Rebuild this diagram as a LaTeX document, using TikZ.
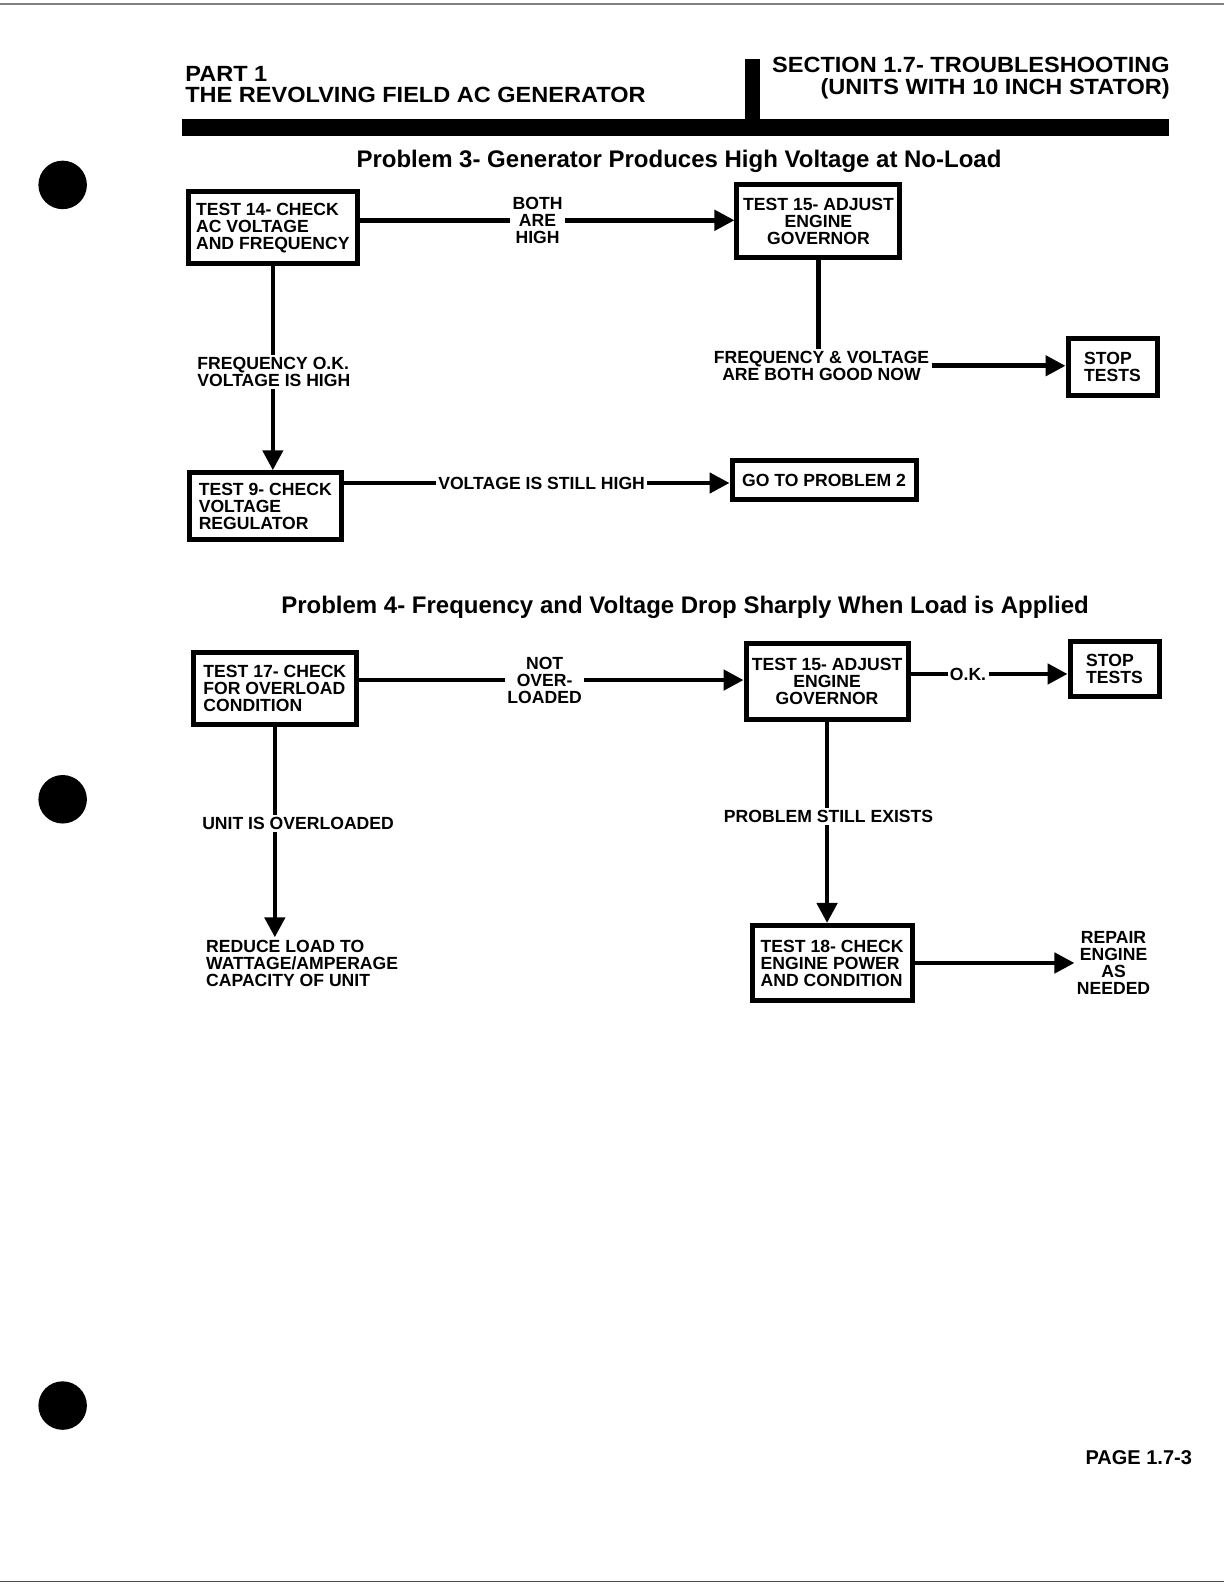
\documentclass[tikz,border=0pt]{standalone}
\usepackage{fontspec}
\setmainfont{Liberation Sans}
\newfontfamily\hdrfam{Liberation Sans}[FakeStretch=1.07]
\usetikzlibrary{arrows.meta}
\newcommand{\lblfont}{\fontsize{8.8}{8.5}\selectfont\bfseries}
\newcommand{\hdrfont}{\hdrfam\fontsize{11}{11}\selectfont\bfseries}
\newcommand{\ttlfont}{\fontsize{12}{12}\selectfont\bfseries}
\begin{document}
\begin{tikzpicture}[x=0.5053pt,y=-0.5053pt,
  box/.style={draw, line width=2.5pt, inner sep=0pt, align=center, font=\lblfont},
  lbl/.style={inner sep=1pt, align=center, font=\lblfont},
  conn/.style={line width=2.3pt},
  arr/.style={line width=2.3pt, -{Triangle[length=10pt,width=10pt]}},
  hole/.style={fill=black}
]
\useasboundingbox (0,0) rectangle (1211.3,1567.6);
% scan edge lines
\draw[gray, line width=0.6pt] (0,4) -- (1211.3,4);
\draw[black!70, line width=0.8pt] (0,1565) -- (1211.3,1565);
% punch holes
\fill[hole] (62,183) circle (24);
\fill[hole] (62,791) circle (24);
\fill[hole] (62,1391) circle (24);
% header
\node[anchor=base west, inner sep=0pt, font=\hdrfont] (part1) at (183,81) {PART 1};
\node[anchor=base west, inner sep=0pt, font=\hdrfont] (part2) at (183,101) {THE REVOLVING FIELD AC GENERATOR};
\node[anchor=base east, inner sep=0pt, font=\hdrfont] (sect1) at (1158,72) {SECTION 1.7- TROUBLESHOOTING};
\node[anchor=base east, inner sep=0pt, font=\hdrfont] (sect2) at (1158,94) {(UNITS WITH 10 INCH STATOR)};
\fill (737,58) rectangle (752,120);
\fill (180,118) rectangle (1157,135);
% Problem 3
\node[font=\ttlfont, inner sep=0pt] (t3) at (672,160) {Problem 3- Generator Produces High Voltage at No-Load};
\node[box, minimum width=84.5pt, minimum height=36pt, align=left] (A) at (270,225.5) {TEST 14- CHECK\\AC VOLTAGE\\AND FREQUENCY};
\node[box, minimum width=81.5pt, minimum height=36.5pt] (B) at (810,219) {TEST 15- ADJUST\\ENGINE\\GOVERNOR};
\node[box, minimum width=76pt, minimum height=33.5pt, align=left] (C) at (262.5,501) {TEST 9- CHECK\\VOLTAGE\\REGULATOR};
\node[box, minimum width=92pt, minimum height=19.5pt] (D) at (815.5,475) {GO TO PROBLEM 2};
\node[box, minimum width=44.5pt, minimum height=28.5pt, align=left] (E) at (1101,363) {STOP\\TESTS};
\node[lbl] (ab) at (532,218) {BOTH\\ARE\\HIGH};
\node[lbl, align=left] (fo) at (271,368) {FREQUENCY O.K.\\VOLTAGE IS HIGH};
\node[lbl] (cd) at (536,478) {VOLTAGE IS STILL HIGH};
\node[lbl] (fg) at (813,362) {FREQUENCY \& VOLTAGE\\ARE BOTH GOOD NOW};
\draw[conn] (A.east |- ab.west) -- (ab.west);
\draw[arr] (ab.east) -- (B.west |- ab.east);
\draw[conn] (A.south) -- (A.south |- fo.north);
\draw[arr] (A.south |- fo.south) -- (A.south |- C.north);
\draw[conn] (C.east |- cd.west) -- (cd.west);
\draw[arr] (cd.east) -- (D.west |- cd.east);
\draw[conn] (B.south) -- (B.south |- fg.north);
\draw[arr] (fg.east) -- (E.west |- fg.east);
% Problem 4
\node[font=\ttlfont, inner sep=0pt] (t4) at (678,601) {Problem 4- Frequency and Voltage Drop Sharply When Load is Applied};
\node[box, minimum width=81.5pt, minimum height=36pt, align=left] (F) at (272,681.5) {TEST 17- CHECK\\FOR OVERLOAD\\CONDITION};
\node[box, minimum width=81pt, minimum height=38pt] (G) at (818.5,674.5) {TEST 15- ADJUST\\ENGINE\\GOVERNOR};
\node[box, minimum width=44.5pt, minimum height=27.5pt, align=left] (H) at (1103,662) {STOP\\TESTS};
\node[box, minimum width=80pt, minimum height=37.5pt, align=left] (I) at (823.5,953) {TEST 18- CHECK\\ENGINE POWER\\AND CONDITION};
\node[lbl] (fgl) at (539,673) {NOT\\OVER-\\LOADED};
\node[lbl] (ok) at (958,667) {O.K.};
\node[lbl] (uo) at (295,815) {UNIT IS OVERLOADED};
\node[lbl, align=left] (red) at (299,953) {REDUCE LOAD TO\\WATTAGE/AMPERAGE\\CAPACITY OF UNIT};
\node[lbl] (pse) at (820,808) {PROBLEM STILL EXISTS};
\node[lbl] (rep) at (1102,953) {REPAIR\\ENGINE\\AS\\NEEDED};
\draw[conn] (F.east |- fgl.west) -- (fgl.west);
\draw[arr] (fgl.east) -- (G.west |- fgl.east);
\draw[conn] (G.east |- ok.west) -- (ok.west);
\draw[arr] (ok.east) -- (H.west |- ok.east);
\draw[conn] (F.south) -- (F.south |- uo.north);
\draw[arr] (F.south |- uo.south) -- (F.south |- red.north);
\draw[conn] (G.south) -- (G.south |- pse.north);
\draw[arr] (G.south |- pse.south) -- (G.south |- I.north);
\draw[arr] (I.east |- rep.west) -- (rep.west);
% page number
\node[anchor=east, inner sep=0pt, font=\fontsize{10}{10}\selectfont\bfseries] (pg) at (1180,1443) {PAGE 1.7-3};
\end{tikzpicture}
\end{document}
